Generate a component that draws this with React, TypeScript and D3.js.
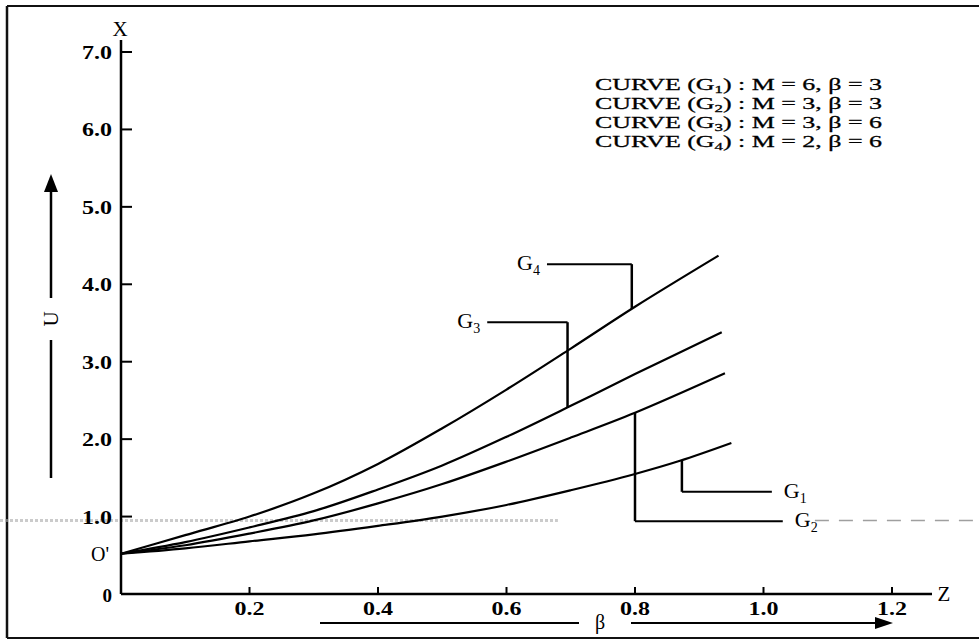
import React from 'react';
import * as d3 from 'd3';

// tick labels
const Z_TICKS = [0.2, 0.4, 0.6, 0.8, 1.0, 1.2];
const U_TICKS = [1, 2, 3, 4, 5, 6, 7];

// curves (Z, U)
const G1_Z = [0, 0.1, 0.2, 0.3, 0.4, 0.5, 0.6, 0.7, 0.8, 0.87, 0.95];
const G1_U = [0.52, 0.59, 0.68, 0.77, 0.88, 1.0, 1.15, 1.34, 1.55, 1.72, 1.95];

const G2_Z = [0, 0.1, 0.2, 0.3, 0.4, 0.5, 0.6, 0.7, 0.8, 0.94];
const G2_U = [0.52, 0.63, 0.78, 0.95, 1.17, 1.42, 1.71, 2.02, 2.34, 2.85];

const G3_Z = [0, 0.1, 0.2, 0.3, 0.4, 0.5, 0.6, 0.7, 0.8, 0.935];
const G3_U = [0.52, 0.67, 0.86, 1.07, 1.35, 1.66, 2.03, 2.43, 2.84, 3.38];

const G4_Z = [0, 0.1, 0.2, 0.3, 0.4, 0.5, 0.6, 0.7, 0.8, 0.93];
const G4_U = [0.52, 0.76, 1.0, 1.3, 1.68, 2.14, 2.64, 3.17, 3.71, 4.37];

const LEGEND = [
  { sub: '1', rest: ') : M = 6, \u03b2 = 3' },
  { sub: '2', rest: ') : M = 3, \u03b2 = 3' },
  { sub: '3', rest: ') : M = 3, \u03b2 = 6' },
  { sub: '4', rest: ') : M = 2, \u03b2 = 6' },
];

// leader lines: label, curve index, z of the vertical, u of the elbow, z where the label sits
const LEADERS = [
  { name: '4', curve: 3, z: 0.795, u: 4.26, zLabel: 0.663, side: 'left' },
  { name: '3', curve: 2, z: 0.695, u: 3.51, zLabel: 0.57, side: 'left' },
  { name: '1', curve: 0, z: 0.873, u: 1.32, zLabel: 1.013, side: 'right' },
  { name: '2', curve: 1, z: 0.8, u: 0.94, zLabel: 1.03, side: 'right' },
];

const CURVES = [
  { z: G1_Z, u: G1_U },
  { z: G2_Z, u: G2_U },
  { z: G3_Z, u: G3_U },
  { z: G4_Z, u: G4_U },
];

const W = 979;
const H = 642;
const FONT = '"Liberation Serif", "DejaVu Serif", serif';

function interp(zs: number[], us: number[], z: number) {
  const i = Math.max(1, d3.bisectLeft(zs, z));
  const t = (z - zs[i - 1]) / (zs[i] - zs[i - 1]);
  return us[i - 1] + t * (us[i] - us[i - 1]);
}

export default function App() {
  const x = d3.scaleLinear().domain([0, 1.2]).range([121, 892]);
  const y = d3.scaleLinear().domain([0, 7]).range([594, 52]);

  const line = d3
    .line<[number, number]>()
    .x((d) => x(d[0]))
    .y((d) => y(d[1]))
    .curve(d3.curveCatmullRom.alpha(0.5));

  return (
    <svg
      width={W}
      height={H}
      style={{ position: 'absolute', left: 0, top: 0, background: '#fff' }}
      fontFamily={FONT}
    >
      {/* frame */}
      <line x1={7} x2={W} y1={6} y2={6} stroke="#111" strokeWidth={2} />
      <line x1={7} x2={7} y1={6} y2={638} stroke="#111" strokeWidth={2.5} />
      <line x1={7} x2={W} y1={638} y2={638} stroke="#111" strokeWidth={2} />

      {/* scan streak */}
      <line x1={0} x2={x(0.68)} y1={y(0.95)} y2={y(0.95)} stroke="#aaa" strokeWidth={3}
        strokeDasharray="3,2" opacity={0.6} />
      <line x1={x(1.08)} x2={W} y1={y(0.95)} y2={y(0.95)} stroke="#777" strokeWidth={1.5}
        strokeDasharray="14,10" opacity={0.7} />

      {/* axes */}
      <line x1={x(0)} x2={x(0)} y1={40} y2={y(0)} stroke="#000" strokeWidth={2.5} />
      <line x1={x(0)} x2={932} y1={y(0)} y2={y(0)} stroke="#000" strokeWidth={2.5} />
      {U_TICKS.map((t) => (
        <g key={t}>
          <line x1={x(0)} x2={x(0) + 11} y1={y(t)} y2={y(t)} stroke="#000" strokeWidth={2} />
          <text x={x(0) - 39} y={y(t) + 7} fontSize={19} fontWeight="bold"
            textLength={30} lengthAdjust="spacingAndGlyphs">
            {t.toFixed(1)}
          </text>
        </g>
      ))}
      <text x={x(0) - 9} y={y(0) + 8} textAnchor="end" fontSize={19} fontWeight="bold">0</text>
      {Z_TICKS.map((t) => (
        <g key={t}>
          <line x1={x(t)} x2={x(t)} y1={y(0)} y2={y(0) - 7} stroke="#000" strokeWidth={2} />
          <text x={x(t) - 15} y={y(0) + 21} fontSize={19} fontWeight="bold"
            textLength={30} lengthAdjust="spacingAndGlyphs">
            {t.toFixed(1)}
          </text>
        </g>
      ))}
      <text x={x(0) - 1} y={36} textAnchor="middle" fontSize={21}>X</text>
      <text x={944} y={601} textAnchor="middle" fontSize={21}>Z</text>
      <text x={100} y={y(0.52) + 7} textAnchor="middle" fontSize={20}>O'</text>

      {/* U arrow */}
      <line x1={51} x2={51} y1={188} y2={298} stroke="#000" strokeWidth={2.5} />
      <line x1={51} x2={51} y1={340} y2={478} stroke="#000" strokeWidth={2.5} />
      <polygon points="51,174 44,192 58,192" fill="#000" />
      <text x={51} y={319} transform="rotate(-90 51 319)" textAnchor="middle"
        dominantBaseline="central" fontSize={21}>U</text>

      {/* beta arrow */}
      <line x1={320} x2={579} y1={623} y2={623} stroke="#000" strokeWidth={2} />
      <line x1={631} x2={878} y1={623} y2={623} stroke="#000" strokeWidth={2} />
      <polygon points="893,623 875,617 875,629" fill="#000" />
      <text x={600} y={629} textAnchor="middle" fontSize={20}>{'\u03b2'}</text>

      {/* curves */}
      {CURVES.map((c, i) => (
        <path
          key={i}
          d={line(c.z.map((z, j) => [z, c.u[j]] as [number, number])) || ''}
          fill="none"
          stroke="#000"
          strokeWidth={2.2}
        />
      ))}

      {/* leaders */}
      {LEADERS.map((l) => {
        const c = CURVES[l.curve];
        const uc = interp(c.z, c.u, l.z);
        const left = l.side === 'left';
        return (
          <g key={l.name}>
            <line x1={x(l.z)} x2={x(l.z)} y1={y(uc)} y2={y(l.u)} stroke="#000" strokeWidth={2.5} />
            <line x1={x(l.z)} x2={x(l.zLabel)} y1={y(l.u)} y2={y(l.u)} stroke="#000" strokeWidth={2} />
            <text
              x={left ? x(l.zLabel) - 7 : x(l.zLabel) + 12}
              y={y(l.u) + 6}
              textAnchor={left ? 'end' : 'start'}
              fontSize={22}
            >
              G
              <tspan fontSize={14} dy={5}>{l.name}</tspan>
            </text>
          </g>
        );
      })}

      {/* legend */}
      {LEGEND.map((d, i) => (
        <text key={i} x={595} y={90 + i * 19} fontSize={17} textLength={287}
          lengthAdjust="spacingAndGlyphs" stroke="#000" strokeWidth={0.3}>
          CURVE (G
          <tspan fontSize={11} dy={3}>{d.sub}</tspan>
          <tspan dy={-3}>{d.rest}</tspan>
        </text>
      ))}
    </svg>
  );
}
